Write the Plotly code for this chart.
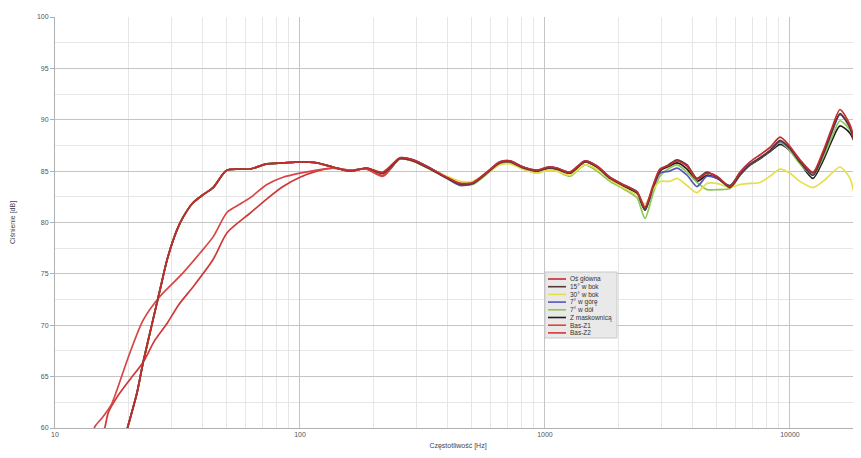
import plotly.graph_objects as go

# ---------------- data ----------------
SERIES_NAMES = ["Oś główna", "15° w bok", "30° w bok", "7° w górę", "7° w dół",
                "Z maskownicą", "Bas-Z1", "Bas-Z2"]
SERIES_COLORS = ["#c42a2e", "#5a3838", "#e6df4a", "#5656b4", "#8cc853",
                 "#1e1e1e", "#d94444", "#d03838"]

# low-frequency part shared by the six directional measurements
LOW_F = [19.6, 21.6, 22.9, 25.1, 26.8, 28.7, 31.5, 33.3, 36.5, 40.2, 44.2, 50.4,
         62.5, 73.3, 85.3, 100, 117, 136, 160, 187]
LOW_DB = [59.7, 63.4, 66.4, 70.5, 73.4, 76.4, 79.3, 80.5, 81.9, 82.7, 83.4, 85.1,
          85.2, 85.7, 85.8, 85.9, 85.8, 85.4, 85.0, 85.3]

HI_F = [218, 256, 289, 339, 398, 450, 508, 579, 655, 720,
        813, 927, 1028, 1119, 1264, 1456, 1630, 1841, 2080, 2374,
        2560, 2760, 2946, 3230, 3461, 3802, 4172, 4584, 5036, 5690,
        6253, 6870, 7550, 8290, 9110, 10000, 10990, 12420, 13640, 14840,
        16000, 17580, 19320, 20500]

os_glowna = [84.9, 86.3, 86.1, 85.3, 84.4, 83.8, 83.9, 84.9, 85.9, 86.0,
             85.4, 85.1, 85.4, 85.3, 84.9, 86.0, 85.5, 84.4, 83.7, 83.0,
             81.5, 83.6, 85.2, 85.6, 86.0, 85.5, 84.2, 84.8, 84.5, 83.5,
             84.9, 85.9, 86.6, 87.3, 88.3, 87.4, 86.1, 84.9, 86.9, 89.2,
             91.0, 89.5, 85.9, 84.0]
bok_15 = [84.8, 86.2, 86.0, 85.2, 84.3, 83.7, 83.8, 84.8, 85.8, 85.9,
          85.3, 85.0, 85.3, 85.2, 84.8, 85.9, 85.4, 84.3, 83.6, 82.9,
          81.3, 83.4, 85.0, 85.7, 86.1, 85.6, 84.3, 84.9, 84.4, 83.4,
          84.6, 85.6, 86.3, 87.0, 88.0, 87.2, 85.9, 84.6, 86.6, 88.9,
          90.6, 89.2, 85.6, 83.8]
bok_30 = [84.9, 86.2, 86.0, 85.2, 84.5, 84.0, 84.0, 84.8, 85.6, 85.7,
          85.2, 84.8, 85.1, 85.0, 84.6, 85.6, 85.2, 84.2, 83.4, 82.7,
          81.8, 83.2, 84.0, 84.0, 84.3, 83.6, 82.9, 83.8, 83.8, 83.4,
          83.7, 83.8, 83.9, 84.5, 85.2, 84.8, 84.0, 83.4, 84.0, 84.8,
          85.4, 84.3, 80.0, 78.0]
gora_7 = [84.8, 86.3, 86.1, 85.3, 84.3, 83.6, 83.8, 84.9, 85.9, 86.0,
          85.4, 85.1, 85.4, 85.3, 84.9, 86.0, 85.5, 84.4, 83.7, 83.0,
          81.3, 83.3, 84.8, 85.0, 85.3, 84.6, 83.5, 84.5, 84.3, 83.5,
          84.8, 85.7, 86.3, 87.0, 87.9, 87.2, 85.9, 84.8, 86.6, 88.8,
          90.5, 89.3, 86.2, 84.5]
dol_7 = [84.8, 86.2, 86.0, 85.2, 84.3, 83.7, 83.7, 84.7, 85.7, 85.8,
         85.2, 84.8, 85.1, 85.0, 84.5, 85.6, 85.0, 84.0, 83.3, 82.4,
         80.4, 82.8, 84.5, 85.3, 85.6, 84.9, 83.9, 83.2, 83.2, 83.3,
         84.6, 85.6, 86.3, 87.0, 87.8, 87.0, 85.7, 84.6, 86.3, 88.3,
         89.9, 89.0, 86.4, 84.8]
maskownica = [84.8, 86.2, 86.0, 85.3, 84.4, 83.8, 83.9, 84.8, 85.8, 85.9,
              85.4, 85.0, 85.3, 85.2, 84.8, 85.9, 85.4, 84.3, 83.6, 82.8,
              81.2, 83.4, 85.0, 85.5, 85.8, 85.2, 84.0, 84.6, 84.3, 83.6,
              84.8, 85.6, 86.2, 86.9, 87.6, 87.0, 85.8, 84.3, 86.0, 88.0,
              89.4, 88.7, 86.6, 85.2]

BAS_Z1_F = [14.3, 14.6, 15.7, 17.0, 17.9, 20.2, 22.9, 26.8, 30.0, 33.3, 39.0, 44.2,
            50.4, 56.0, 62.5, 73.3, 85.3, 100, 117, 136, 160, 187, 218, 256, 289, 339]
BAS_Z1_DB = [59.7, 60.2, 61.1, 62.3, 63.7, 67.3, 70.5, 72.8, 74.0, 75.1, 77.0, 78.6,
             81.0, 81.7, 82.4, 83.7, 84.4, 84.8, 85.1, 85.3, 85.1, 85.2, 84.5, 86.2,
             86.1, 85.3]
BAS_Z2_F = [15.7, 16.0, 16.5, 17.9, 20.2, 22.9, 25.5, 28.7, 32.0, 36.5, 44.2, 50.4,
            62.5, 73.3, 85.3, 100, 117, 136, 160, 187, 218, 256, 289, 339]
BAS_Z2_DB = [59.6, 60.1, 61.5, 63.0, 64.7, 66.4, 68.5, 70.2, 72.0, 73.7, 76.4, 79.0,
             80.9, 82.3, 83.5, 84.4, 85.0, 85.3, 85.1, 85.2, 84.6, 86.2, 86.1, 85.3]

Y_TICKS = [60, 65, 70, 75, 80, 85, 90, 95, 100]
X_TICKS = [10, 100, 1000, 10000]
X_TITLE = "Częstotliwość [Hz]"
Y_TITLE = "Ciśnienie [dB]"

# ---------------- figure ----------------
series = [
    (LOW_F + HI_F, LOW_DB + os_glowna),
    (LOW_F + HI_F, LOW_DB + bok_15),
    (LOW_F + HI_F, LOW_DB + bok_30),
    (LOW_F + HI_F, LOW_DB + gora_7),
    (LOW_F + HI_F, LOW_DB + dol_7),
    (LOW_F + HI_F, LOW_DB + maskownica),
    (BAS_Z1_F, BAS_Z1_DB),
    (BAS_Z2_F, BAS_Z2_DB),
]

fig = go.Figure()
# draw in reverse so that the first series ends up on top
for i in reversed(range(len(series))):
    xs, ys = series[i]
    fig.add_trace(go.Scatter(x=xs, y=ys, mode="lines", name=SERIES_NAMES[i],
                             line=dict(color=SERIES_COLORS[i], width=1.7,
                                       shape="spline", smoothing=0.7),
                             showlegend=False))

# page has an 8px body margin: plot area should span page x 55..861, y 17..428
OFF = 8
W, H = 861 - OFF, 458 - 2 * OFF
L, R, T = 55 - OFF, 0, 17 - OFF
B = OFF + H - 428
PW, PH = W - L - R, H - T - B


def px(x):
    return (x - OFF - L) / PW


def py(y):
    return (H - B - (y - OFF)) / PH


# manual compact legend
shapes = [dict(type="rect", xref="paper", yref="paper",
               x0=px(545), x1=px(617), y0=py(338), y1=py(272),
               fillcolor="#e9e9e9", line=dict(color="#c8c8c8", width=1), layer="above")]
annotations = []
for i, name in enumerate(SERIES_NAMES):
    yy = 279 + i * 7.7
    shapes.append(dict(type="line", xref="paper", yref="paper",
                       x0=px(548), x1=px(566), y0=py(yy), y1=py(yy),
                       line=dict(color=SERIES_COLORS[i], width=1.6), layer="above"))
    annotations.append(dict(xref="paper", yref="paper", x=px(568), y=py(yy),
                            text=name, showarrow=False, xanchor="left", yanchor="middle",
                            font=dict(size=6.5, color="#333333", family="Liberation Sans")))

fig.update_layout(
    width=W, height=H,
    margin=dict(l=L, r=R, t=T, b=B, pad=0, autoexpand=False),
    paper_bgcolor="white", plot_bgcolor="white",
    font=dict(family="Liberation Sans", size=7, color="#555555"),
    shapes=shapes, annotations=annotations,
    showlegend=False,
)
fig.update_xaxes(type="log", range=[1, 4.29], tickvals=X_TICKS,
                 ticktext=[str(v) for v in X_TICKS], automargin=False,
                 showgrid=True, gridcolor="#c4c4c4", gridwidth=1,
                 minor=dict(dtick="D1", showgrid=True, gridcolor="#e6e6e6", ticks=""),
                 showline=True, linecolor="#b0b0b0", ticks="", zeroline=False,
                 title=dict(text=X_TITLE, font=dict(size=7, color="#444444"), standoff=9),
                 tickfont=dict(size=7, color="#555555"))
fig.update_yaxes(range=[60, 100], tickvals=Y_TICKS, ticktext=[str(v) for v in Y_TICKS],
                 automargin=False,
                 showgrid=True, gridcolor="#c4c4c4", gridwidth=1,
                 minor=dict(dtick=2.5, showgrid=True, gridcolor="#e6e6e6", ticks=""),
                 showline=True, linecolor="#b0b0b0", ticks="outside", ticklen=4,
                 tickcolor="#b0b0b0", zeroline=False,
                 title=dict(text=Y_TITLE, font=dict(size=7, color="#444444"), standoff=20),
                 tickfont=dict(size=7, color="#555555"))

fig.write_html("out.html")
